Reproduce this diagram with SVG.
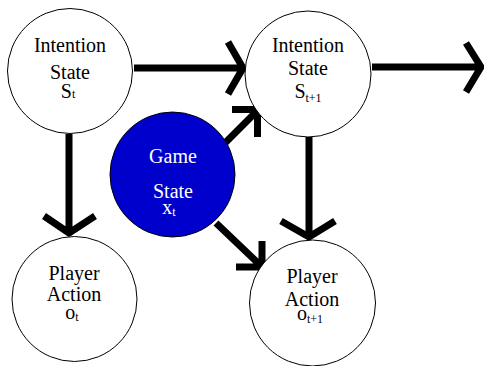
<svg xmlns="http://www.w3.org/2000/svg" width="484" height="366" viewBox="0 0 484 366">
<style>
.node{fill:#fff;stroke:#000;stroke-width:1}
.game{fill:#0000cc;stroke:#000;stroke-width:1}
text{font-family:"Liberation Serif","Times New Roman",serif;font-size:20px;text-anchor:middle;fill:#000}
.w{fill:#fff}
.sub{font-size:12px}
.edge{fill:none;stroke:#000;stroke-width:7;stroke-linecap:butt;stroke-linejoin:miter}
</style>
<rect width="484" height="366" fill="#fff"/>
<g id="connectors">
<path class="edge" d="M134,68 H242 M228,42 L243,68 L228,94"/>
<path class="edge" d="M372,67 H480 M466,43 L481,67 L466,92"/>
<path class="edge" d="M69,134 V233 M44,216 L69,233 L95,216"/>
<path class="edge" d="M309,137 V236 M281,221 L309,237 L335,221"/>
<path class="edge" d="M221,147 L256,112 M232,109.5 H257.5 V137"/>
<path class="edge" d="M216,223 L259,264 M236,267 H262 V241"/>
</g>
<g id="intention_t">
<circle class="node" cx="70" cy="71" r="62.5"/>
<text x="70" y="52">Intention</text>
<text x="70" y="79">State</text>
<text x="68" y="98">S<tspan class="sub">t</tspan></text>
</g>
<g id="intention_t1">
<circle class="node" cx="308" cy="74" r="63"/>
<text x="308" y="52">Intention</text>
<text x="308" y="75">State</text>
<text x="308" y="98">S<tspan class="sub" dy="4">t+1</tspan></text>
</g>
<g id="game_state">
<circle class="game" cx="172.5" cy="174.5" r="62.5"/>
<text class="w" x="173" y="163">Game</text>
<text class="w" x="173" y="198">State</text>
<text class="w" x="169" y="214">x<tspan class="sub" dy="2">t</tspan></text>
</g>
<g id="action_t">
<circle class="node" cx="74.5" cy="299" r="62.5"/>
<text x="74" y="280">Player</text>
<text x="74" y="301">Action</text>
<text x="72" y="319">o<tspan class="sub" dy="2">t</tspan></text>
</g>
<g id="action_t1">
<circle class="node" cx="312.5" cy="303" r="63"/>
<text x="312" y="283">Player</text>
<text x="312" y="306">Action</text>
<text x="310" y="320">o<tspan class="sub" dy="3">t+1</tspan></text>
</g>
</svg>
